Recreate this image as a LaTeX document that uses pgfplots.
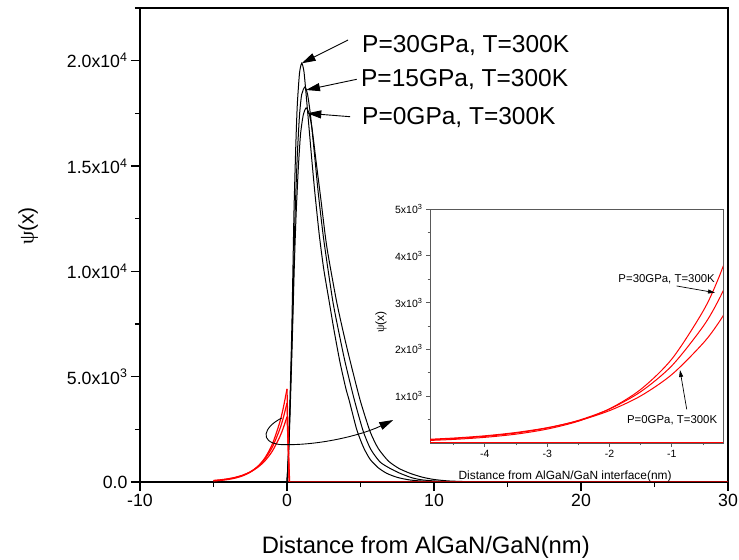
\documentclass[border=0pt]{standalone}
\usepackage{fontspec}
\setmainfont{Liberation Sans}
\newfontfamily\greekserif{Liberation Serif}
\usepackage{pgfplots}
\pgfplotsset{compat=1.18}
\usetikzlibrary{arrows.meta}

\pgfplotstableread{
x y
0 0
0.1 1500
0.2 3800
0.32 7080
0.4 10000
0.48 13000
0.6 16000
0.7 17900
0.85 19400
1.0 19880
1.15 19500
1.3 18400
1.5 16800
1.7 15200
1.9 13700
2.2 11700
2.5 10100
2.85 8650
3.2 7200
3.6 5700
4.0 4450
4.24 3850
4.74 2500
5.2 1650
5.65 1080
6.2 680
6.78 413
7.5 220
8.37 95
9.5 30
11 6
13 0
}\blackA

\pgfplotstableread{
x y
0 0
0.1 1300
0.2 3400
0.35 7000
0.45 10000
0.55 12700
0.7 15500
0.85 17400
1.0 18400
1.22 18750
1.4 18400
1.6 17400
1.85 15700
2.13 13700
2.5 11500
3.1 8650
3.5 7200
3.95 5700
4.58 3900
5.19 2400
5.7 1550
6.33 950
7.0 650
7.69 413
8.5 200
9.25 95
10.5 30
12 6
14 0
}\blackB

\pgfplotstableread{
x y
0 0
0.1 1200
0.2 3100
0.37 7000
0.5 10300
0.62 12700
0.77 14900
0.92 16500
1.1 17400
1.3 17760
1.5 17500
1.7 16800
2.0 15100
2.29 13500
2.7 11200
3.35 8650
3.8 7200
4.24 5900
4.97 3900
5.65 2400
6.2 1600
6.89 1000
7.6 650
8.37 413
9.2 230
10 120
11 50
12.5 12
14 0
}\blackC

\pgfplotstableread{
x y
-5 49
-4.5 77
-4 121
-3.5 189
-3 297
-2.5 466
-2 730
-1.5 1145
-1 1796
-0.5 2816
-0.25 3527
0 4417
}\redA

\pgfplotstableread{
x y
-5 62
-4.5 94
-4 141
-3.5 213
-3 320
-2.5 483
-2 727
-1.5 1096
-1 1652
-0.5 2489
-0.25 3055
0 3750
}\redB

\pgfplotstableread{
x y
-5 73
-4.5 106
-4 154
-3.5 225
-3 327
-2.5 475
-2 692
-1.5 1006
-1 1464
-0.5 2131
-0.25 2570
0 3100
}\redC

\begin{document}
\begin{tikzpicture}
\begin{axis}[
  at={(140bp,78bp)}, anchor=south west,
  scale only axis, width=588bp, height=474bp,
  xmin=-10, xmax=30, ymin=0, ymax=22500,
  clip mode=individual,
  scaled x ticks=false, scaled y ticks=false,
  xtick={-10,0,10,20,30}, xticklabels={-10,0,10,20,30},
  minor xtick={-5,5,15,25},
  ytick={0,5000,10000,15000,20000},
  yticklabels={0.0,{5.0x10\textsuperscript{3}},{1.0x10\textsuperscript{4}},{1.5x10\textsuperscript{4}},{2.0x10\textsuperscript{4}}},
  minor ytick={2500,7500,12500,17500,22500},
  tick align=outside, xtick pos=left, ytick pos=left,
  major tick length=9bp, minor tick length=5bp,
  every tick/.style={black, line width=1.2bp},
  axis line style={black, line width=1.3bp},
  ticklabel style={font=\fontsize{17.7bp}{20bp}\selectfont},
  xlabel={Distance from AlGaN/GaN(nm)},
  xlabel style={font=\fontsize{23.8bp}{26bp}\selectfont, at={(axis description cs:0.486,-0.15)}, anchor=base},
  ylabel={{\greekserif ψ}(x)},
  ylabel style={font=\fontsize{21bp}{24bp}\selectfont, at={(axis description cs:-0.19,0.54)}, anchor=center},
]
\addplot[black, line width=1bp, smooth, tension=0.4] table {\blackA};
\addplot[black, line width=1bp, smooth, tension=0.4] table {\blackB};
\addplot[black, line width=1bp, smooth, tension=0.4] table {\blackC};
\addplot[red, line width=1.2bp, smooth, tension=0.5] table {\redA};
\addplot[red, line width=1.2bp, smooth, tension=0.5] table {\redB};
\addplot[red, line width=1.2bp, smooth, tension=0.5] table {\redC};
\addplot[red, line width=1.2bp] coordinates {(0,4417) (0.15,0)};
\addplot[red, line width=1.2bp] coordinates {(0,3750) (0.15,0)};
\addplot[red, line width=1.2bp] coordinates {(0,3100) (0.18,0) (30,0)};

\node[anchor=base west, inner sep=0pt, font=\fontsize{24.5bp}{27bp}\selectfont] at (axis cs:5.1,20411) {P=30GPa, T=300K};
\node[anchor=base west, inner sep=0pt, font=\fontsize{24.5bp}{27bp}\selectfont] at (axis cs:5.03,18797) {P=15GPa, T=300K};
\node[anchor=base west, inner sep=0pt, font=\fontsize{24.5bp}{27bp}\selectfont] at (axis cs:5.1,16993) {P=0GPa, T=300K};
\draw[line width=0.9bp, -{Triangle[length=14bp,width=8bp]}] (axis cs:4.15,20981) -- (axis cs:1.0,19875);
\draw[line width=0.9bp, -{Triangle[length=14bp,width=8bp]}] (axis cs:4.74,19115) -- (axis cs:1.29,18607);
\draw[line width=0.9bp, -{Triangle[length=14bp,width=8bp]}] (axis cs:4.29,17340) -- (axis cs:1.38,17501);
\draw[line width=0.9bp, -{Triangle[length=14bp,width=8bp]}] (axis cs:-0.36,3038) .. controls (axis cs:-1.6,2600) and (axis cs:-1.9,1900) .. (axis cs:-0.5,1780) .. controls (axis cs:2,1700) and (axis cs:5,2200) .. (axis cs:7.23,2943);
\end{axis}

\begin{axis}[
  at={(430bp,117bp)}, anchor=south west,
  scale only axis, width=293bp, height=234bp,
  xmin=-4.88, xmax=-0.18, ymin=0, ymax=5000,
  clip mode=individual,
  scaled x ticks=false, scaled y ticks=false,
  axis background/.style={fill=white},
  xtick={-4,-3,-2,-1}, xticklabels={-4,-3,-2,-1},
  minor xtick={-4.5,-3.5,-2.5,-1.5,-0.5},
  ytick={1000,2000,3000,4000,5000},
  yticklabels={{1x10\textsuperscript{3}},{2x10\textsuperscript{3}},{3x10\textsuperscript{3}},{4x10\textsuperscript{3}},{5x10\textsuperscript{3}}},
  minor ytick={500,1500,2500,3500,4500},
  tick align=outside, xtick pos=left, ytick pos=left,
  major tick length=4bp, minor tick length=2.5bp,
  every tick/.style={black!65, line width=0.8bp},
  axis line style={black!65, line width=0.9bp},
  ticklabel style={font=\fontsize{10.5bp}{12bp}\selectfont},
  xlabel={Distance from AlGaN/GaN interface(nm)},
  xlabel style={font=\fontsize{11.9bp}{13bp}\selectfont, at={(axis description cs:0.461,-0.154)}, anchor=base},
  ylabel={{\greekserif ψ}(x)},
  ylabel style={font=\fontsize{12bp}{14bp}\selectfont, at={(axis description cs:-0.167,0.517)}, anchor=center},
]
\addplot[red, line width=1bp, smooth, tension=0.5] table {\redA};
\addplot[red, line width=1bp, smooth, tension=0.5] table {\redB};
\addplot[red, line width=1bp, smooth, tension=0.5] table {\redC};
\addplot[red, line width=1bp] coordinates {(-5,0) (0,0)};
\node[anchor=base east, inner sep=0pt, font=\fontsize{11.4bp}{13bp}\selectfont] at (axis cs:-0.308,3432) {P=30GPa, T=300K};
\node[anchor=base east, inner sep=0pt, font=\fontsize{11.4bp}{13bp}\selectfont] at (axis cs:-0.271,419) {P=0GPa, T=300K};
\draw[line width=0.7bp, -{Triangle[length=7bp,width=4bp]}] (axis cs:-0.923,3355) -- (axis cs:-0.308,3212);
\draw[line width=0.7bp, -{Triangle[length=7bp,width=4bp]}] (axis cs:-0.762,720) -- (axis cs:-0.87,1560);
\end{axis}
\pgfresetboundingbox
\useasboundingbox (0,0) rectangle (739bp,560bp);
\end{tikzpicture}
\end{document}
